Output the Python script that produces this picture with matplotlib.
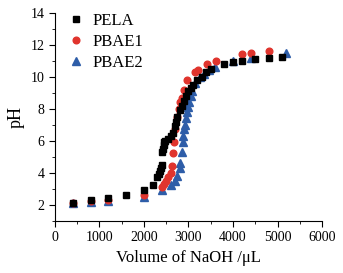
import matplotlib
matplotlib.use('Agg')
import matplotlib.pyplot as plt
from matplotlib.ticker import MultipleLocator

# titration data
pela_v = [400, 800, 1200, 1600, 2000, 2200, 2300, 2340, 2360, 2390, 2400, 2410, 2420, 2440,
          2460, 2480, 2550, 2600, 2650, 2700, 2720, 2750, 2800, 2850, 2900, 2950, 3000,
          3050, 3100, 3200, 3300, 3400, 3500, 3800, 4000, 4200, 4500, 4800, 5100]
pela_ph = [2.1, 2.3, 2.4, 2.6, 2.9, 3.2, 3.7, 3.9, 4.1, 4.3, 4.5, 5.3, 5.5, 5.7,
           5.9, 6.0, 6.1, 6.3, 6.5, 6.9, 7.2, 7.5, 7.9, 8.2, 8.5, 8.8, 9.1,
           9.3, 9.5, 9.8, 10.0, 10.3, 10.5, 10.8, 10.9, 11.0, 11.1, 11.2, 11.25]

pbae1_v = [400, 800, 1200, 2000, 2400, 2450, 2500, 2550, 2600, 2620, 2650, 2680, 2700,
           2750, 2780, 2820, 2850, 2900, 2970, 3150, 3220, 3420, 3620, 4200, 4400, 4800]
pbae1_ph = [2.1, 2.2, 2.3, 2.6, 3.1, 3.3, 3.5, 3.7, 4.0, 4.4, 5.2, 5.9, 6.7,
            7.5, 8.0, 8.4, 8.7, 9.2, 9.8, 10.3, 10.4, 10.8, 11.0, 11.4, 11.5, 11.6]

pbae2_v = [400, 800, 1200, 2000, 2400, 2600, 2700, 2750, 2800, 2820, 2850, 2870, 2880,
           2900, 2920, 2950, 2970, 3000, 3020, 3050, 3080, 3150, 3250, 3350, 3450, 3600,
           4000, 4400, 5200]
pbae2_ph = [2.1, 2.15, 2.2, 2.5, 2.9, 3.2, 3.5, 3.8, 4.3, 4.6, 5.3, 5.9, 6.3,
            6.7, 7.0, 7.4, 7.8, 8.1, 8.4, 8.8, 9.1, 9.6, 10.0, 10.2, 10.4, 10.6,
            11.0, 11.2, 11.5]

plt.rcParams['font.family'] = ['Liberation Serif', 'DejaVu Serif']

fig = plt.figure(figsize=(3.43, 2.73), dpi=100)
ax = fig.add_axes([0.160, 0.192, 0.779, 0.761])

ax.plot(pbae2_v, pbae2_ph, '^', color='#2e5da8', ms=5.2, ls='none', label='PBAE2')
ax.plot(pbae1_v, pbae1_ph, 'o', color='#e0342d', ms=4.8, ls='none', label='PBAE1')
ax.plot(pela_v, pela_ph, 's', color='black', ms=4.4, ls='none', label='PELA')

ax.set_xlim(0, 6000)
ax.set_ylim(1, 14)
ax.xaxis.set_major_locator(MultipleLocator(1000))
ax.xaxis.set_minor_locator(MultipleLocator(500))
ax.yaxis.set_major_locator(MultipleLocator(2))
ax.yaxis.set_minor_locator(MultipleLocator(1))
ax.spines['top'].set_visible(False)
ax.spines['right'].set_visible(False)
ax.tick_params(which='major', direction='out', length=4, labelsize=10)
ax.tick_params(which='minor', direction='out', length=2)

ax.set_xlabel('Volume of NaOH /μL', fontsize=12)
ax.set_ylabel('pH', fontsize=13)

h, l = ax.get_legend_handles_labels()
ax.legend(h[::-1], l[::-1], loc='upper left', frameon=False, fontsize=12,
          handletextpad=0.4, borderaxespad=0.0, labelspacing=0.3,
          bbox_to_anchor=(0.015, 1.03), handlelength=1.2)

fig.savefig('out.png', dpi=100)
